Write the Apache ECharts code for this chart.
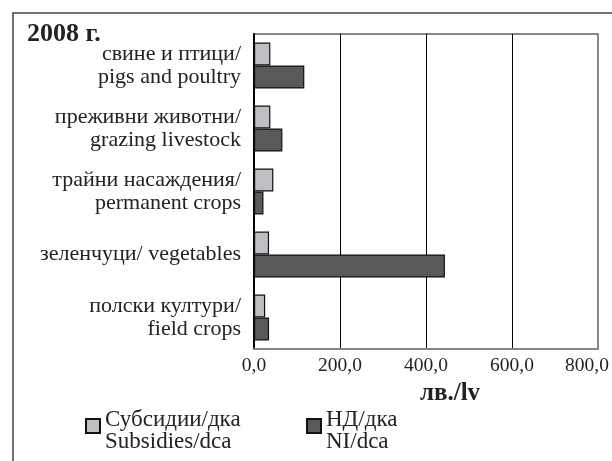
<!DOCTYPE html>
<html>
<head>
<meta charset="utf-8">
<script src="https://cdn.jsdelivr.net/npm/echarts@6/dist/echarts.min.js"></script>
<style>
html,body{margin:0;padding:0;background:#fff;}
#chart{width:612px;height:461px;}
</style>
</head>
<body>
<div id="chart"></div>
<script>
var categories = [
  'свине и птици/\npigs and poultry',
  'преживни животни/\ngrazing livestock',
  'трайни насаждения/\npermanent crops',
  'зеленчуци/ vegetables',
  'полски култури/\nfield crops'
];
var subsidies = [38, 38, 45, 35, 26];
var netIncome = [117, 66, 22, 444, 35];
var seriesNames = ['Субсидии/дка\nSubsidies/dca', 'НД/дка\nNI/dca'];
var xTicks = [0, 200, 400, 600, 800];

var FONT = '"Liberation Serif", "Times New Roman", serif';
var chart = echarts.init(document.getElementById('chart'), null, {renderer: 'canvas'});

function fmt(v) {
  var s = v.toFixed(1).replace('.', ',');
  if (v === xTicks[xTicks.length - 1]) return '{last|' + s + '}';
  return s;
}

function legendFmt(name) {
  var parts = name.split('\n');
  return '{sp| }\n{t|' + parts[0] + '}\n{t|' + parts[1] + '}';
}

var legendText = {fontFamily: FONT, fontSize: 23, lineHeight: 22, color: '#222'};
var legendBase = {
  orient: 'horizontal',
  top: 399,
  padding: 0,
  icon: 'rect',
  itemWidth: 14,
  itemHeight: 14,
  itemGap: 4,
  selectedMode: false,
  formatter: legendFmt,
  textStyle: Object.assign({}, legendText, {
    rich: {
      sp: {fontFamily: FONT, fontSize: 2, lineHeight: 10},
      t: Object.assign({}, legendText)
    }
  })
};

chart.setOption({
  animation: false,
  backgroundColor: '#fff',
  title: {
    text: '2008 г.',
    left: 27, top: 21, padding: 0,
    textStyle: {fontFamily: FONT, fontSize: 26, fontWeight: 'bold', color: '#222'}
  },
  graphic: [{
    type: 'rect', silent: true, z: -1,
    shape: {x: 13, y: 13, width: 700, height: 600},
    style: {fill: 'none', stroke: '#444', lineWidth: 1.5}
  }],
  legend: [
    Object.assign({}, legendBase, {left: 85, data: [seriesNames[0]]}),
    Object.assign({}, legendBase, {left: 306, data: [seriesNames[1]]})
  ],
  grid: {
    left: 254, right: 14, top: 34, bottom: 112,
    show: true, borderColor: '#888', borderWidth: 2, backgroundColor: 'transparent'
  },
  xAxis: {
    type: 'value',
    min: 0, max: 800, interval: 200,
    name: 'лв./lv',
    nameLocation: 'middle',
    nameGap: 31,
    nameTextStyle: {fontFamily: FONT, fontSize: 25, fontWeight: 'bold', color: '#222', padding: [0, 0, 0, 48]},
    axisLine: {show: true, lineStyle: {color: '#888', width: 2}},
    axisTick: {show: false},
    axisLabel: {
      fontFamily: FONT, fontSize: 19.5, color: '#222', margin: 7,
      formatter: fmt,
      rich: {last: {fontFamily: FONT, fontSize: 19.5, color: '#222', padding: [0, 22, 0, 0]}}
    },
    splitLine: {show: true, showMinLine: false, showMaxLine: false, lineStyle: {color: '#000', width: 1}}
  },
  yAxis: {
    type: 'category',
    inverse: true,
    data: categories,
    axisLine: {show: true, lineStyle: {color: '#000', width: 2}},
    axisTick: {show: false},
    axisLabel: {fontFamily: FONT, fontSize: 22, lineHeight: 22.5, color: '#222', margin: 13, align: 'right'}
  },
  series: [
    {
      name: seriesNames[0], type: 'bar', data: subsidies,
      barWidth: 23, barGap: '0%',
      itemStyle: {color: '#bfbfc3', borderColor: '#111', borderWidth: 1.2}
    },
    {
      name: seriesNames[1], type: 'bar', data: netIncome,
      barWidth: 23, barGap: '0%',
      itemStyle: {color: '#58595b', borderColor: '#111', borderWidth: 1.2}
    }
  ]
});
</script>
</body>
</html>
